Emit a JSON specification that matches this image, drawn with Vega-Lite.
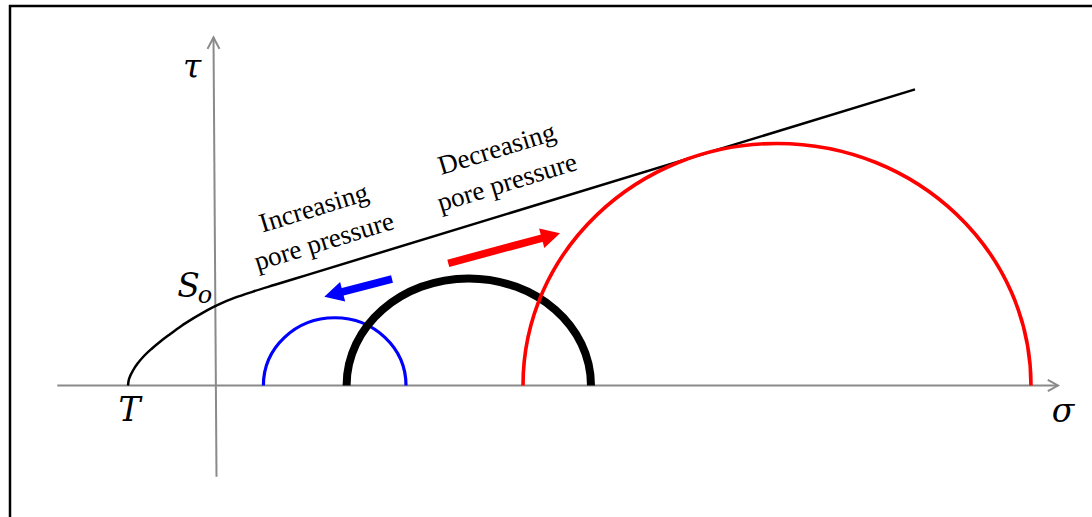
{
  "$schema": "https://vega.github.io/schema/vega-lite/v6.json",
  "width": 1092,
  "height": 517,
  "autosize": "none",
  "padding": 0,
  "background": "white",
  "config": {"view": {"stroke": null}},
  "datasets": {
    "frame": [{"left": -205, "right": 900, "top": 379.5, "bottom": -150}],
    "axes": [
      {"axis": "σ", "s1": -157.7, "t1": 0, "s2": 843, "t2": 0},
      {"axis": "τ", "s1": 1.5, "t1": -91.2, "s2": -1.5, "t2": 348}
    ],
    "envelope": [
      {"s": -87, "t": 0},
      {"s": -86.5, "t": 4},
      {"s": -85, "t": 9},
      {"s": -82, "t": 15},
      {"s": -77, "t": 22.5},
      {"s": -71, "t": 29.5},
      {"s": -63, "t": 37},
      {"s": -54, "t": 44.5},
      {"s": -45, "t": 51.3},
      {"s": -34, "t": 59.3},
      {"s": -21, "t": 67.6},
      {"s": -8, "t": 75.2},
      {"s": 5, "t": 81.6},
      {"s": 20, "t": 87.8},
      {"s": 38, "t": 93.9},
      {"s": 60, "t": 100.7},
      {"s": 90, "t": 109.9},
      {"s": 700, "t": 296.1}
    ],
    "circles": [
      {"state": "higher pore pressure", "centre": 119.7, "radius": 71.3},
      {"state": "initial", "centre": 253.8, "radius": 122.2},
      {"state": "lower pore pressure", "centre": 562, "radius": 254}
    ],
    "shifts": [
      {"shift": "increase", "tailS": 177, "tailT": 106.5, "baseS": 123, "baseT": 92.5, "tipS": 109.3, "tipT": 88.8},
      {"shift": "decrease", "tailS": 233.3, "tailT": 122.2, "baseS": 330, "baseT": 148.2, "tipS": 345, "tipT": 152.2}
    ],
    "notes": [
      {"note": "Increasing\npore pressure", "s": 99, "t": 177},
      {"note": "Decreasing\npore pressure", "s": 282, "t": 236}
    ],
    "symbols": [
      {"label": "τ", "s": -23, "t": 317.5, "sub": false},
      {"label": "σ", "s": 848, "t": -26, "sub": false},
      {"label": "T", "s": -85.5, "t": -25.5, "sub": false},
      {"label": "S", "s": -26.5, "t": 99, "sub": false},
      {"label": "o", "s": -10, "t": 89.5, "sub": true}
    ]
  },
  "resolve": {"scale": {"color": "independent", "shape": "independent", "size": "independent", "strokeWidth": "independent"}},
  "layer": [
    {
      "data": {"name": "frame"},
      "mark": {"type": "rect", "fillOpacity": 0, "stroke": "#000000", "strokeWidth": 2.5, "clip": true},
      "encoding": {
        "x": {"field": "left", "type": "quantitative", "axis": null, "scale": {"domain": [-215, 877], "nice": false, "zero": false}},
        "x2": {"field": "right"},
        "y": {"field": "top", "type": "quantitative", "axis": null, "scale": {"domain": [-131.5, 385.5], "nice": false, "zero": false}},
        "y2": {"field": "bottom"}
      }
    },
    {
      "data": {"name": "axes"},
      "mark": {"type": "rule", "stroke": "#8a8a8a", "strokeWidth": 2},
      "encoding": {
        "x": {"field": "s1", "type": "quantitative"},
        "y": {"field": "t1", "type": "quantitative"},
        "x2": {"field": "s2"},
        "y2": {"field": "t2"}
      }
    },
    {
      "data": {"name": "axes"},
      "mark": {"type": "point", "filled": false, "stroke": "#8a8a8a", "strokeWidth": 2, "opacity": 1, "size": 144},
      "encoding": {
        "x": {"field": "s2", "type": "quantitative"},
        "y": {"field": "t2", "type": "quantitative"},
        "shape": {"field": "axis", "type": "nominal", "legend": null,
          "scale": {"domain": ["σ", "τ"], "range": ["M-1.7,-0.95L0,0L-1.7,0.95", "M-1,1.9L0,0L1,1.9"]}}
      }
    },
    {
      "data": {"name": "envelope"},
      "mark": {"type": "line", "stroke": "#000000", "strokeWidth": 2.5, "interpolate": "monotone"},
      "encoding": {
        "x": {"field": "s", "type": "quantitative"},
        "y": {"field": "t", "type": "quantitative"}
      }
    },
    {
      "data": {"name": "circles"},
      "mark": {"type": "point", "filled": false, "opacity": 1, "strokeCap": "butt"},
      "encoding": {
        "x": {"field": "centre", "type": "quantitative"},
        "y": {"datum": 0, "type": "quantitative"},
        "shape": {"field": "state", "type": "nominal", "legend": null,
          "scale": {"domain": ["higher pore pressure", "initial", "lower pore pressure"],
                    "range": ["M-1,0A1,0.95,0,0,1,1,0", "M-1,0A1,0.876,0,0,1,1,0", "M-1,0A1,0.953,0,0,1,1,0"]}},
        "size": {"field": "radius", "type": "quantitative", "legend": null,
          "scale": {"type": "pow", "exponent": 2, "domain": [0, 100], "range": [0, 40000]}},
        "color": {"field": "state", "type": "nominal", "legend": null,
          "scale": {"domain": ["higher pore pressure", "initial", "lower pore pressure"], "range": ["#0000ff", "#000000", "#ff0000"]}},
        "strokeWidth": {"field": "state", "type": "nominal", "legend": null,
          "scale": {"type": "ordinal", "domain": ["higher pore pressure", "initial", "lower pore pressure"], "range": [3.2, 8, 3.6]}}
      }
    },
    {
      "data": {"name": "shifts"},
      "mark": {"type": "rule", "strokeWidth": 7.5, "strokeCap": "butt"},
      "encoding": {
        "x": {"field": "tailS", "type": "quantitative"},
        "y": {"field": "tailT", "type": "quantitative"},
        "x2": {"field": "baseS"},
        "y2": {"field": "baseT"},
        "color": {"field": "shift", "type": "nominal", "legend": null,
          "scale": {"domain": ["increase", "decrease"], "range": ["#0000ff", "#ff0000"]}}
      }
    },
    {
      "data": {"name": "shifts"},
      "mark": {"type": "point", "filled": true, "opacity": 1, "size": 400},
      "encoding": {
        "x": {"field": "tipS", "type": "quantitative"},
        "y": {"field": "tipT", "type": "quantitative"},
        "shape": {"field": "shift", "type": "nominal", "legend": null,
          "scale": {"domain": ["increase", "decrease"], "range": ["M0,0L2.09,0.48L1.58,-1.46Z", "M0,0L-1.57,1.46L-2.09,-0.48Z"]}},
        "color": {"field": "shift", "type": "nominal", "legend": null,
          "scale": {"domain": ["increase", "decrease"], "range": ["#0000ff", "#ff0000"]}}
      }
    },
    {
      "data": {"name": "notes"},
      "mark": {"type": "text", "font": "Liberation Serif", "fontSize": 27, "angle": -17, "lineBreak": "\n", "lineHeight": 35, "align": "center", "baseline": "middle", "color": "#000000"},
      "encoding": {
        "x": {"field": "s", "type": "quantitative"},
        "y": {"field": "t", "type": "quantitative"},
        "text": {"field": "note", "type": "nominal"}
      }
    },
    {
      "data": {"name": "symbols"},
      "transform": [{"filter": "!datum.sub"}],
      "mark": {"type": "text", "font": "DejaVu Serif", "fontStyle": "italic", "fontSize": 33, "align": "center", "baseline": "middle", "color": "#000000"},
      "encoding": {
        "x": {"field": "s", "type": "quantitative"},
        "y": {"field": "t", "type": "quantitative"},
        "text": {"field": "label", "type": "nominal"}
      }
    },
    {
      "data": {"name": "symbols"},
      "transform": [{"filter": "datum.sub"}],
      "mark": {"type": "text", "font": "DejaVu Serif", "fontStyle": "italic", "fontSize": 24, "align": "center", "baseline": "middle", "color": "#000000"},
      "encoding": {
        "x": {"field": "s", "type": "quantitative"},
        "y": {"field": "t", "type": "quantitative"},
        "text": {"field": "label", "type": "nominal"}
      }
    }
  ]
}
